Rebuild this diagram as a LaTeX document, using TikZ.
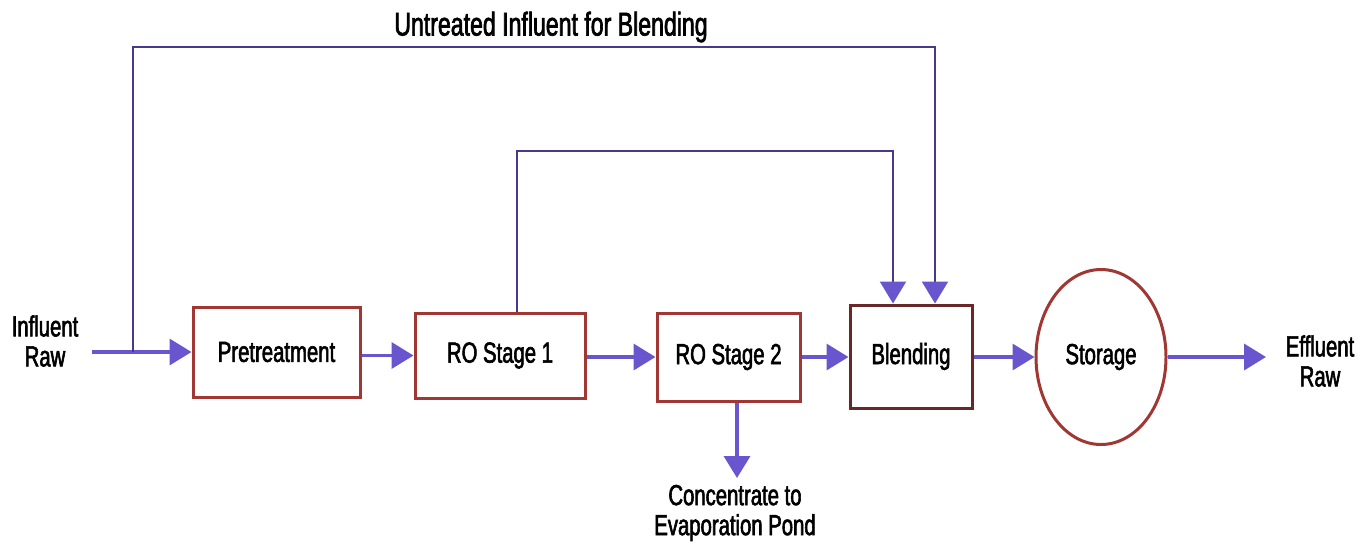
\documentclass[tikz,border=0pt]{standalone}
\usepackage{fontspec}
\setmainfont[FakeStretch=0.7,FakeBold=2]{Liberation Sans}
\usetikzlibrary{arrows.meta,shapes.geometric}
\definecolor{flow}{RGB}{105,85,205}
\definecolor{bypass}{RGB}{75,55,140}
\definecolor{brick}{RGB}{160,55,50}
\definecolor{darkbrick}{RGB}{105,40,40}

\tikzset{
  unit/.style={draw=brick, line width=1.5pt, fill=white, inner sep=0pt,
    font=\fontsize{14.5}{14}\selectfont},
  flowarr/.style={draw=flow, line width=1.8pt, -{Triangle[length=11pt,width=13pt]}},
  bypassline/.style={draw=bypass, line width=1.1pt,
    -{Triangle[length=11pt,width=13pt,color=flow]}},
  lbl/.style={font=\fontsize{14.5}{15}\selectfont, align=center}
}

\begin{document}
\begin{tikzpicture}[x=0.5pt,y=-0.5pt]
\useasboundingbox (0,0) rectangle (1359,543);
\node[unit, minimum width=83.5pt, minimum height=45pt] (pre) at (276.5,352) {Pretreatment};
\node[unit, minimum width=85pt, minimum height=42.5pt] (ro1) at (500,355.5) {RO Stage 1};
\node[unit, minimum width=71.5pt, minimum height=44pt] (ro2) at (728.5,357) {RO Stage 2};
\node[unit, draw=darkbrick, minimum width=61pt, minimum height=51.5pt] (blend) at (911,356.5) {Blending};
\node[unit, ellipse, minimum width=65pt, minimum height=87.5pt] (store) at (1101,357) {Storage};
\node[lbl] (in) at (45,341) {Influent\\Raw};
\node[lbl] (out) at (1320,361) {Effluent\\Raw};
\node[lbl] (pond) at (735,513) {Concentrate to\\Evaporation Pond};
\node[lbl, font=\fontsize{16.5}{17}\selectfont] (title) at (551,27) {Untreated Influent for Blending};
\coordinate (inA) at (92,352);
\coordinate (split) at (133,352);
\coordinate (tapA) at (935,47);
\coordinate (r1) at (517,151);
\coordinate (tapB) at (893,151);
\coordinate (drain) at (737,478);
\coordinate (outA) at (1266,357);
% main line
\draw[flowarr] (inA) -- (pre.west);
\draw[flowarr] (pre.east |- ro1) -- (ro1.west);
\draw[flowarr] (ro1.east |- ro2) -- (ro2.west);
\draw[flowarr] (ro2.east) -- (ro2.east -| blend.west);
\draw[flowarr] (blend.east |- store) -- (store.west);
\draw[flowarr] (store.east) -- (outA);
\draw[flowarr] (drain |- ro2.south) -- (drain);
% blending lines
\draw[bypassline] (split) |- (tapA) -- (tapA |- blend.north);
\draw[bypassline] (r1 |- ro1.north) -- (r1) -- (tapB) -- (tapB |- blend.north);
\end{tikzpicture}
\end{document}
